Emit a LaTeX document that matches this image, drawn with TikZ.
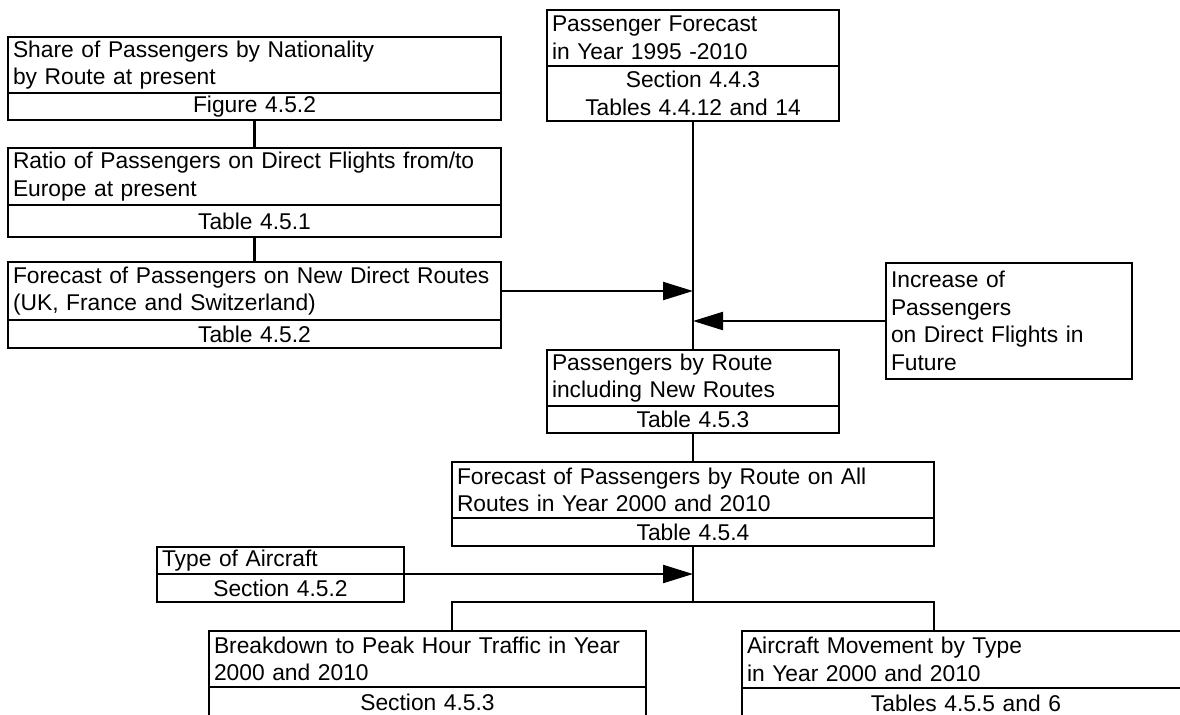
\documentclass[tikz,border=0pt]{standalone}
\usepackage{fontspec}
\setmainfont{Liberation Sans}
\usetikzlibrary{positioning,arrows.meta}

\begin{document}
\begin{tikzpicture}[x=0.5pt, y=-0.5pt, node distance=0pt,
	box/.style={draw, line width=1.1pt, outer sep=0pt, inner xsep=2.5pt, inner ysep=0pt, anchor=north west, align=left, font=\fontsize{11.4}{13.8}\selectfont},
	ref/.style={box, align=center},
	tip/.style={-{Triangle[length=15pt, width=9pt]}, line width=1.1pt}]
	\clip (0,0) rectangle (1180,714);

	\node[box, text width=241.5pt, minimum height=28pt] (share) at (8,37) {Share of Passengers by Nationality\\by Route at present};
	\node[ref, text width=241.5pt, minimum height=13.5pt, below=of share] (share-ref) {Figure 4.5.2};
	\node[box, text width=241.5pt, minimum height=28.5pt] (ratio) at (8,148) {Ratio of Passengers on Direct Flights from/to\\Europe at present};
	\node[ref, text width=241.5pt, minimum height=16pt, below=of ratio] (ratio-ref) {Table 4.5.1};
	\node[box, text width=241.5pt, minimum height=29pt] (newroutes) at (8,262) {Forecast of Passengers on New Direct Routes\\(UK, France and Switzerland)};
	\node[ref, text width=241.5pt, minimum height=14pt, below=of newroutes] (newroutes-ref) {Table 4.5.2};

	\node[box, text width=141pt, minimum height=28pt] (forecast) at (547,10) {Passenger Forecast\\in Year 1995 -2010};
	\node[ref, text width=141pt, minimum height=27.5pt, below=of forecast] (forecast-ref) {Section 4.4.3\\Tables 4.4.12 and 14};
	\node[box, text width=118pt, minimum height=58pt] (increase) at (886,263) {Increase of\\Passengers\\on Direct Flights in\\Future};
	\node[box, text width=141pt, minimum height=28pt] (byroute) at (547,350) {Passengers by Route\\including New Routes};
	\node[ref, text width=141pt, minimum height=13.5pt, below=of byroute] (byroute-ref) {Table 4.5.3};
	\node[box, text width=236pt, minimum height=28pt] (allroutes) at (452,462) {Forecast of Passengers by Route on All\\Routes in Year 2000 and 2010};
	\node[ref, text width=236pt, minimum height=14pt, below=of allroutes] (allroutes-ref) {Table 4.5.4};

	\node[box, text width=118.5pt, minimum height=13.5pt] (aircraft) at (157,547) {Type of Aircraft};
	\node[ref, text width=118.5pt, minimum height=14pt, below=of aircraft] (aircraft-ref) {Section 4.5.2};
	\node[box, text width=213.5pt, minimum height=28pt] (peakhour) at (209,631) {Breakdown to Peak Hour Traffic in Year\\2000 and 2010};
	\node[ref, text width=213.5pt, minimum height=15pt, below=of peakhour] (peakhour-ref) {Section 4.5.3};
	\node[box, text width=219pt, minimum height=28.5pt] (movement) at (742,631) {Aircraft Movement by Type\\in Year 2000 and 2010};
	\node[ref, text width=219pt, minimum height=15pt, below=of movement] (movement-ref) {Tables 4.5.5 and 6};

	\coordinate (join) at (allroutes-ref.south |- aircraft-ref.south);
	\coordinate (barl) at (allroutes-ref.south west |- join);
	\coordinate (barr) at (allroutes-ref.south east |- join);

	\path[line width=1.1pt] (share-ref) edge (ratio);
	\path[line width=1.1pt] (ratio-ref) edge (newroutes);
	\path[line width=1.1pt] (forecast-ref) edge (byroute);
	\path[line width=1.1pt] (byroute-ref) edge (allroutes);
	\draw[line width=1.1pt] (allroutes-ref.south) -- (join);
	\draw[line width=1.1pt] (barl |- peakhour.north) -- (barl) -- (barr) -- (barr |- movement.north);

	\draw[tip] (newroutes.east) -- (newroutes.east -| forecast-ref.south);
	\draw[tip] (increase.west) -- (increase.west -| byroute.north);
	\draw[tip] (aircraft.south east) -- (aircraft.south east -| join);
\end{tikzpicture}
\end{document}
